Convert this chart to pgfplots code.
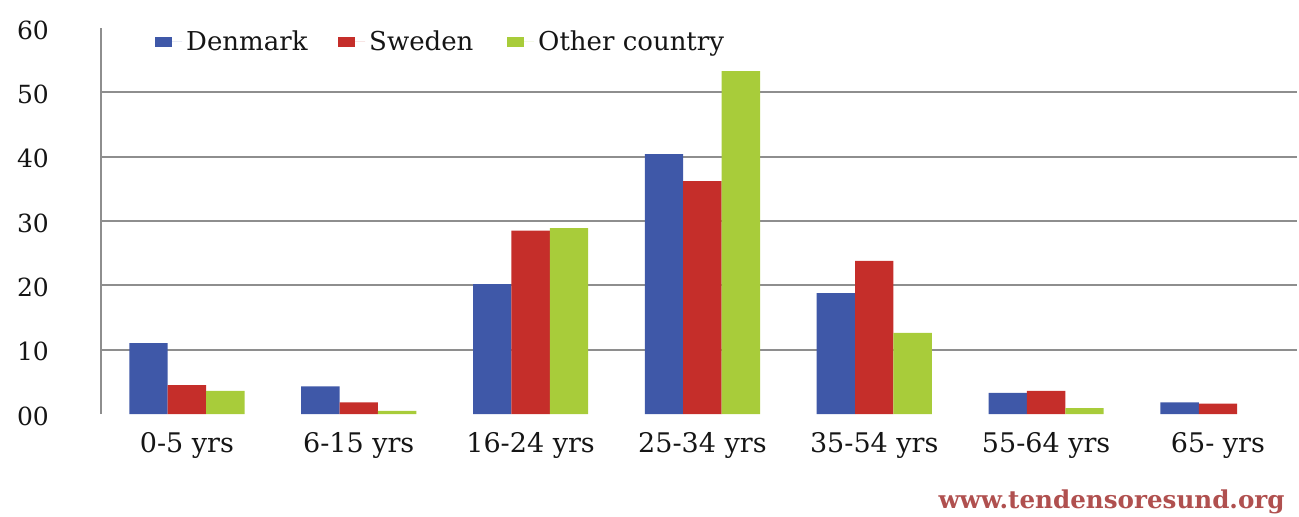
\documentclass[border=0pt]{standalone}
\usepackage{pgfplots}
\pgfplotsset{compat=1.18}
\usepackage{fontspec}
\setmainfont{DejaVu Serif}
\definecolor{dk}{HTML}{3F58A8}
\definecolor{se}{HTML}{C52E2A}
\definecolor{ot}{HTML}{A8CC3A}
\definecolor{gridgray}{HTML}{8E8E8E}
\definecolor{txt}{HTML}{151515}
\definecolor{wm}{HTML}{B0504F}
\begin{document}
\begin{tikzpicture}
\useasboundingbox (0,0) rectangle (649.5pt,258pt);
\begin{axis}[
  at={(50.5pt,51pt)}, anchor=south west, scale only axis,
  width=598pt, height=193pt,
  xmin=-0.5, xmax=6.46, ymin=0, ymax=60,
  ybar=0pt, bar width=19.2pt,
  axis lines*=left,
  x axis line style={draw=none},
  y axis line style={draw=gridgray, line width=1pt},
  major tick length=0pt,
  xtick={0,...,6},
  xticklabels={0-5 yrs,6-15 yrs,16-24 yrs,25-34 yrs,35-54 yrs,55-64 yrs,65- yrs},
  xticklabel style={anchor=base, yshift=-19pt, font=\fontsize{13.5}{16}\selectfont, text=txt},
  ytick={0,10,...,60},
  yticklabels={00,10,20,30,40,50,60},
  yticklabel style={anchor=base, xshift=-34pt, yshift=-5.5pt, font=\fontsize{12.5}{14}\selectfont, text=txt},
  /pgf/number format/assume math mode=true,
  major grid style={draw=gridgray, line width=1pt},
  extra y ticks={10,20,30,40,50},
  extra y tick labels={},
  extra y tick style={ymajorgrids=true, major tick length=0pt},
  legend style={at={(0.045,0.964)}, anchor=west, draw=none, fill=none,
    legend columns=-1, font=\fontsize{13}{15}\selectfont, text=txt, inner sep=0pt},
  legend image code/.code={\fill[#1] (0pt,-2.5pt) rectangle (8.5pt,2.5pt); \path (0pt,0pt) -- (13.5pt,0pt);},
]
\addplot[fill=dk, draw=none] coordinates {(0,11.0) (1,4.3) (2,20.2) (3,40.4) (4,18.8) (5,3.3) (6,1.8)};
\addplot[fill=se, draw=none] coordinates {(0,4.5) (1,1.8) (2,28.5) (3,36.2) (4,23.8) (5,3.6) (6,1.6)};
\addplot[fill=ot, draw=none] coordinates {(0,3.6) (1,0.5) (2,28.9) (3,53.3) (4,12.6) (5,0.9)};
\addlegendentry{\makebox[74pt][l]{Denmark}}
\addlegendentry{\makebox[67pt][l]{Sweden}}
\addlegendentry{Other country}
\end{axis}
\node[anchor=east, text=wm, font=\bfseries\fontsize{12.3}{14}\selectfont, inner sep=0pt] at (642.5pt,7pt) {www.tendensoresund.org};
\end{tikzpicture}
\end{document}
